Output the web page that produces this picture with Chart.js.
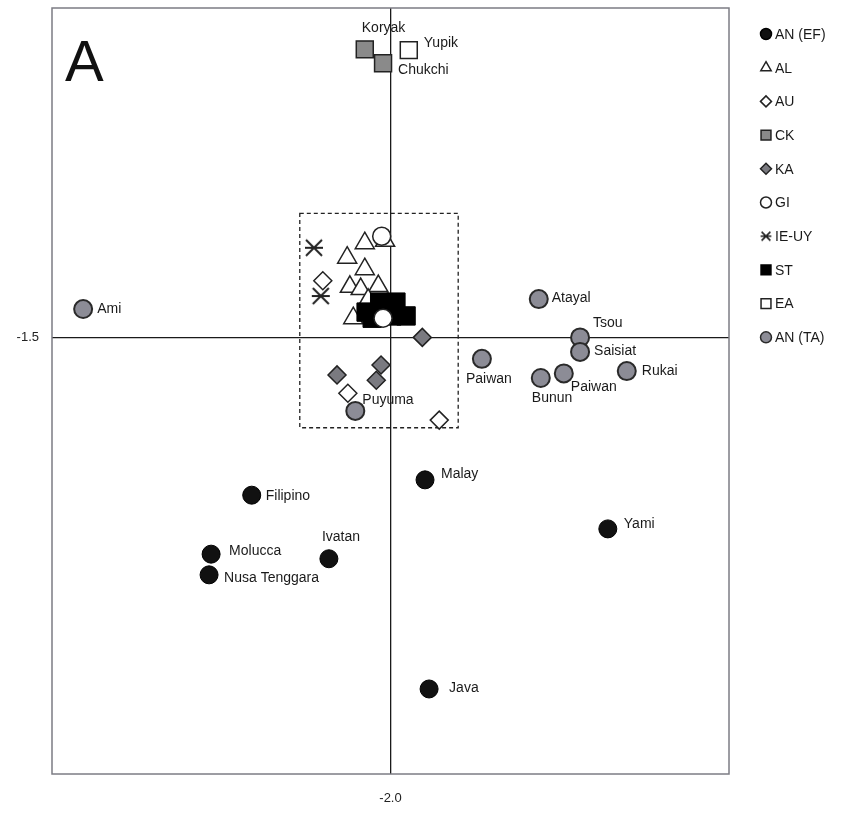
<!DOCTYPE html>
<html>
<head>
<meta charset="utf-8">
<script src="https://cdn.jsdelivr.net/npm/chart.js@4.4.1/dist/chart.umd.min.js"></script>
<style>
body { margin: 0; background: #fff; }
#wrap { width: 844px; height: 813px; position: relative; }
</style>
</head>
<body>
<div id="wrap"><canvas id="myChart"></canvas></div>
<script>
// legend order
var groups = ['AN (EF)', 'AL', 'AU', 'CK', 'KA', 'GI', 'IE-UY', 'ST', 'EA', 'AN (TA)'];

// axis ticks shown (the crosshair)
var xTicks = [-2.0];
var yTicks = [-1.5];

// AN (EF)
var anEfNames = ['Filipino', 'Molucca', 'Nusa Tenggara', 'Ivatan', 'Malay', 'Yami', 'Java'];
var anEfX = [-2.205, -2.265, -2.268, -2.091, -1.949, -1.679, -1.943];
var anEfY = [-1.706, -1.783, -1.810, -1.789, -1.686, -1.750, -1.959];

// AN (TA)
var anTaNames = ['Ami', 'Atayal', 'Tsou', 'Saisiat', 'Paiwan', 'Bunun', 'Paiwan ', 'Rukai', 'Puyuma'];
var anTaX = [-2.454, -1.781, -1.720, -1.720, -1.865, -1.778, -1.744, -1.651, -2.052];
var anTaY = [-1.463, -1.450, -1.500, -1.519, -1.528, -1.553, -1.547, -1.544, -1.596];

// CK
var ckNames = ['Koryak', 'Chukchi'];
var ckX = [-2.038, -2.011];
var ckY = [-1.124, -1.142];

// EA
var eaNames = ['Yupik'];
var eaX = [-1.973];
var eaY = [-1.125];

// GI
var giX = [-2.013, -2.011];
var giY = [-1.368, -1.475];

// AL
var alX = [-2.008, -2.038, -2.064, -2.038, -2.060, -2.044, -2.018, -2.055, -2.033];
var alY = [-1.374, -1.377, -1.396, -1.411, -1.434, -1.437, -1.433, -1.475, -1.451];

// IE-UY
var ieX = [-2.113, -2.103];
var ieY = [-1.383, -1.446];

// AU
var auX = [-2.100, -2.063, -1.928];
var auY = [-1.426, -1.573, -1.608];

// KA
var kaX = [-1.953, -2.014, -2.021, -2.079];
var kaY = [-1.500, -1.536, -1.556, -1.549];

// ST
var stX = [-2.036, -2.016, -1.992, -1.977, -1.998, -2.027];
var stY = [-1.467, -1.454, -1.454, -1.472, -1.472, -1.475];

// dashed box (x1, y1, x2, y2)
var boxX = [-2.134, -1.900];
var boxY = [-1.338, -1.618];

// label placement (text left edge / vertical middle relative to the point)
var labelOffsets = {
	'Ami': [14, 0], 'Atayal': [13, -1], 'Tsou': [13, -14], 'Saisiat': [14, -1],
	'Paiwan': [-16, 20], 'Bunun': [-9, 20], 'Paiwan ': [7, 14], 'Rukai': [15, 0],
	'Puyuma': [7, -11], 'Filipino': [14, 1], 'Molucca': [18, -3], 'Nusa Tenggara': [15, 3],
	'Ivatan': [-7, -22], 'Malay': [16, -6], 'Yami': [16, -5], 'Java': [20, -1],
	'Koryak': [-3, -21], 'Yupik': [15, -7], 'Chukchi': [15, 7]
};

function pts(xs, ys) {
	var out = [];
	for (var i = 0; i < xs.length; i++) {
		out.push({x: xs[i], y: ys[i]});
	}
	return out;
}

// X with a bar for IE-UY
function makeStar(size, lw) {
	var c = document.createElement('canvas');
	c.width = size; c.height = size;
	var g = c.getContext('2d');
	g.strokeStyle = '#222';
	g.lineWidth = lw;
	var m = lw;
	g.beginPath();
	g.moveTo(m, m); g.lineTo(size - m, size - m);
	g.moveTo(size - m, m); g.lineTo(m, size - m);
	g.moveTo(m - 1, size / 2); g.lineTo(size - m + 1, size / 2);
	g.stroke();
	return c;
}
var starBig = makeStar(20, 2);
var starSmall = makeStar(12, 1.6);

var GRAY = '#8c8c96';
var styles = {
	'AN (EF)': {pointStyle: 'circle', radius: 9, bg: '#111', border: '#000', bw: 1},
	'AL': {pointStyle: 'triangle', radius: 11, bg: '#fff', border: '#222', bw: 1.5},
	'AU': {pointStyle: 'rectRot', radius: 9, bg: '#fff', border: '#222', bw: 1.5},
	'CK': {pointStyle: 'rect', radius: 12, bg: '#8a8a8a', border: '#222', bw: 1.5},
	'KA': {pointStyle: 'rectRot', radius: 9, bg: '#7a7a80', border: '#222', bw: 1.5},
	'GI': {pointStyle: 'circle', radius: 9, bg: '#fff', border: '#222', bw: 1.5},
	'IE-UY': {pointStyle: starBig, radius: 9, bg: '#222', border: '#222', bw: 1},
	'ST': {pointStyle: 'rect', radius: 13, bg: '#000', border: '#000', bw: 1},
	'EA': {pointStyle: 'rect', radius: 12, bg: '#fff', border: '#222', bw: 1.5},
	'AN (TA)': {pointStyle: 'circle', radius: 9, bg: GRAY, border: '#2a2a2a', bw: 2}
};

function ds(name, data, names) {
	var s = styles[name];
	return {
		label: name,
		data: data,
		names: names || null,
		pointStyle: s.pointStyle,
		pointRadius: s.radius,
		pointHoverRadius: s.radius,
		backgroundColor: s.bg,
		borderColor: s.border,
		borderWidth: s.bw
	};
}

// first dataset is drawn on top
var Data = {
	datasets: [
		ds('GI', pts(giX, giY)),
		ds('ST', pts(stX, stY)),
		ds('AL', pts(alX, alY)),
		ds('IE-UY', pts(ieX, ieY)),
		ds('AU', pts(auX, auY)),
		ds('KA', pts(kaX, kaY)),
		ds('AN (TA)', pts(anTaX, anTaY), anTaNames),
		ds('CK', pts(ckX, ckY), ckNames),
		ds('EA', pts(eaX, eaY), eaNames),
		ds('AN (EF)', pts(anEfX, anEfY), anEfNames)
	]
};

var FONT = '"Liberation Sans", Arial, sans-serif';

var framePlugin = {
	id: 'frame',
	beforeDatasetsDraw: function(chart) {
		var ctx = chart.ctx, a = chart.chartArea;
		var sx = chart.scales.x, sy = chart.scales.y;
		ctx.save();
		ctx.strokeStyle = '#7c7c84';
		ctx.lineWidth = 1.5;
		ctx.strokeRect(a.left, a.top, a.right - a.left, a.bottom - a.top);
		// dashed box
		var x1 = sx.getPixelForValue(boxX[0]), x2 = sx.getPixelForValue(boxX[1]);
		var y1 = sy.getPixelForValue(boxY[0]), y2 = sy.getPixelForValue(boxY[1]);
		ctx.setLineDash([4, 3]);
		ctx.strokeStyle = '#222';
		ctx.lineWidth = 1.3;
		ctx.strokeRect(x1, y1, x2 - x1, y2 - y1);
		ctx.restore();
	},
	afterDatasetsDraw: function(chart) {
		var ctx = chart.ctx, a = chart.chartArea;
		ctx.save();
		ctx.fillStyle = '#1a1a1a';
		ctx.font = '14px ' + FONT;
		ctx.textAlign = 'left';
		ctx.textBaseline = 'middle';
		chart.data.datasets.forEach(function(d, di) {
			if (!d.names) return;
			var meta = chart.getDatasetMeta(di);
			meta.data.forEach(function(el, i) {
				var n = d.names[i];
				var off = labelOffsets[n] || [12, 0];
				ctx.fillText(n.trim(), el.x + off[0], el.y + off[1]);
			});
		});
		// panel letter
		ctx.font = '58px ' + FONT;
		ctx.textBaseline = 'alphabetic';
		ctx.fillStyle = '#111';
		ctx.fillText('A', a.left + 13, a.top + 73);

		// legend
		var lx = 766, ly = 34, step = 33.7;
		ctx.font = '14px ' + FONT;
		ctx.textBaseline = 'middle';
		groups.forEach(function(g, i) {
			var s = styles[g];
			var y = ly + i * step;
			ctx.fillStyle = s.bg;
			ctx.strokeStyle = s.border;
			ctx.lineWidth = 1.5;
			var ps = s.pointStyle;
			var r = 5.5;
			if (ps === 'rect') r = 7;
			if (ps === 'triangle') r = 6;
			if (ps === 'rectRot') r = 5.5;
			if (typeof ps !== 'string') {
				ctx.drawImage(starSmall, lx - 6, y - 6);
			} else {
				Chart.helpers.drawPoint(ctx, {pointStyle: ps, radius: r, borderWidth: 1.5, rotation: 0}, lx, y);
			}
			ctx.fillStyle = '#1a1a1a';
			ctx.fillText(g, lx + 9, y + 1);
		});
		ctx.restore();
	}
};

function noPad(scale) {
	scale.paddingTop = 0;
	scale.paddingBottom = 0;
	scale.paddingLeft = 0;
	scale.paddingRight = 0;
}

new Chart(document.getElementById('myChart'), {
	type: 'scatter',
	data: Data,
	plugins: [framePlugin],
	options: {
		responsive: true,
		maintainAspectRatio: false,
		animation: false,
		layout: { autoPadding: false, padding: { top: 8, right: 115, left: 0, bottom: 0 } },
		plugins: {
			legend: { display: false },
			tooltip: { enabled: false }
		},
		scales: {
			x: {
				type: 'linear',
				min: -2.5,
				max: -1.5,
				afterBuildTicks: function(scale) {
					scale.ticks = xTicks.map(function(v) { return {value: v}; });
				},
				afterFit: function(scale) { scale.height = 39; noPad(scale); },
				grid: { color: '#1a1a1a', lineWidth: 1.3, drawTicks: false },
				border: { display: false },
				ticks: {
					padding: 17,
					color: '#222',
					font: { family: FONT, size: 13 },
					callback: function(v) { return v.toFixed(1); }
				}
			},
			y: {
				type: 'linear',
				min: -2.07,
				max: -1.07,
				afterBuildTicks: function(scale) {
					scale.ticks = yTicks.map(function(v) { return {value: v}; });
				},
				afterFit: function(scale) { scale.width = 52; noPad(scale); },
				grid: { color: '#1a1a1a', lineWidth: 1.3, drawTicks: false },
				border: { display: false },
				ticks: {
					padding: 13,
					color: '#222',
					font: { family: FONT, size: 13 },
					callback: function(v) { return v.toFixed(1); }
				}
			}
		}
	}
});
</script>
</body>
</html>
